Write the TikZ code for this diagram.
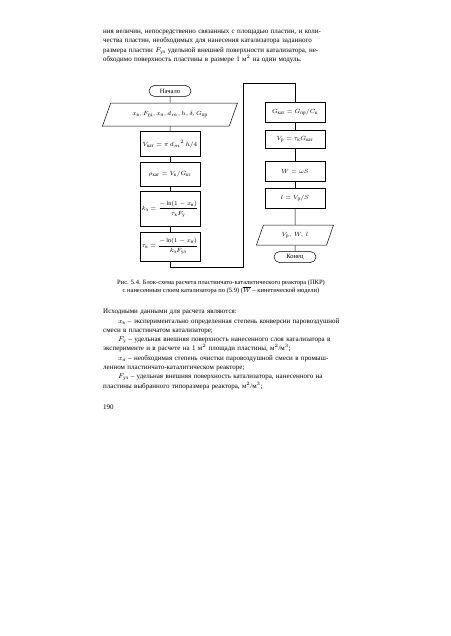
\documentclass[tikz,border=0pt]{standalone}
\usepackage{amsmath}
\usepackage{fontspec}
\setmainfont{Liberation Serif}
\usetikzlibrary{positioning,shapes.geometric}

\begin{document}
\begin{tikzpicture}[x=1pt,y=-1pt,node distance=5pt]
      \tikzstyle{blok}=[draw,line width=0.5pt,minimum width=60pt,inner sep=1pt,align=center,font=\fontsize{6}{7}\selectfont]
      \tikzstyle{term}=[draw,line width=0.5pt,rounded corners=5.5pt,minimum width=42pt,minimum height=11pt,inner sep=1pt,font=\fontsize{6.5}{7}\selectfont]
      \tikzstyle{vvod}=[draw,line width=0.5pt,trapezium,trapezium stretches body,inner sep=1pt,font=\fontsize{6}{7}\selectfont]
      \tikzstyle{abzac}=[anchor=north west,inner sep=0pt,font=\fontsize{7}{9.3}\selectfont]
      \tikzstyle{lin}=[line width=0.5pt]
      \useasboundingbox (0,0) rectangle (450,636);
      % text above the scheme
      \node[abzac,text width=228pt] (verh) at (103,30) {\tolerance=9999\hyphenpenalty=10000
        ния величин, непосредственно связанных с площадью пластин, и коли-\linebreak
        чества пластин, необходимых для нанесения катализатора заданного\linebreak
        размера пластин $F_{\text{ул}}$ удельной внешней поверхности катализатора, не-\linebreak
        обходимо поверхность пластины в размере 1 м$^2$ на один модуль.};
      % left column
      \node[term] (nach) at (170,91) {Начало};
      \node[vvod,below=6pt of nach,minimum width=135pt,minimum height=23pt,
        trapezium left angle=45,trapezium right angle=135] (vh)
        {$x_{\text{в}}, F_{\text{уд}}, x_{\text{н}}, d_m, h, \delta, G_{\text{пр}}$};
      \node[blok,below=of vh,minimum height=25pt] (vkat) {$V_{\text{кат}}=\pi\,{d_m}^{2}\,h/4$};
      \node[blok,below=of vkat,minimum height=24pt] (rho) {$\rho_{\text{кат}}=V_{\text{к}}/G_{\text{кт}}$};
      \node[blok,below=of rho,minimum height=35pt] (ke)
        {$k_{\text{э}}=\dfrac{-\ln(1-x_{\text{в}})}{\tau_{\text{к}}F_{\text{у}}}$};
      \node[blok,below=of ke,minimum height=29pt] (tauk)
        {$\tau_{\text{к}}=\dfrac{-\ln(1-x_{\text{н}})}{k_{\text{э}}F_{\text{ул}}}$};
      % right column
      \node[blok,minimum height=20pt] (gkat) at (295,112) {$G_{\text{кат}}=G_{\text{пр}}/C_{\text{к}}$};
      \node[blok,below=8pt of gkat,minimum height=18pt] (vr) {$V_{\text{р}}=\tau_{\text{к}}G_{\text{кат}}$};
      \node[blok,below=12pt of vr,minimum height=20pt] (wv) {$W=\omega S$};
      \node[blok,below=7pt of wv,minimum height=20pt] (ll) {$l=V_{\text{р}}/S$};
      \node[vvod,below=16pt of ll,minimum width=77pt,minimum height=20pt,
        trapezium left angle=50,trapezium right angle=130] (vyv) {$V_{\text{р}},\ W,\ l$};
      \node[term,below=6pt of vyv] (kon) {Конец};
      \draw[lin] (nach) -- (vh);
      \draw[lin] (vh) -- (vkat);
      \draw[lin] (vkat) -- (rho);
      \draw[lin] (rho) -- (ke);
      \draw[lin] (ke) -- (tauk);
      \coordinate (p1) at (243,267);
      \coordinate (p2) at (243,83);
      \draw[lin] (tauk.south) |- (p1) -- (p2) -| (gkat.north);
      \draw[lin] (gkat) -- (vr);
      \draw[lin] (vr) -- (wv);
      \draw[lin] (wv) -- (ll);
      \draw[lin] (ll) -- (vyv);
      \draw[lin] (vyv) -- (kon);
      % caption
      \node[align=center,font=\fontsize{6.5}{8}\selectfont] (podp) at (221,287)
        {Рис. 5.4. Блок-схема расчета пластинчато-каталитического реактора (ПКР)\\
         с нанесенным слоем катализатора по (5.9) ($\overline{W}$ -- кинетической модели)};
      % text below
      \node[abzac,text width=240pt] (niz) at (103,309) {\tolerance=9999\hyphenpenalty=10000\setlength{\parindent}{15pt}%
        Исходными данными для расчета являются:\par
        $x_{\text{в}}$ -- экспериментально определенная степень конверсии паровоздушной\linebreak
        смеси в пластинчатом катализаторе;\par
        $F_{\text{у}}$ -- удельная внешняя поверхность нанесенного слоя катализатора в\linebreak
        эксперименте и в расчете на 1 м$^2$ площади пластины, м$^2$/м$^3$;\par
        $x_{\text{н}}$ -- необходимая степень очистки паровоздушной смеси в промыш-\linebreak
        ленном пластинчато-каталитическом реакторе;\par
        $F_{\text{ул}}$ -- удельная внешняя поверхность катализатора, нанесенного на\linebreak
        пластины выбранного типоразмера реактора, м$^2$/м$^3$;\par};
      \node[anchor=base west,inner sep=0pt,font=\fontsize{7}{9}\selectfont] (str) at (103,409) {190};
    \end{tikzpicture}
\end{document}
